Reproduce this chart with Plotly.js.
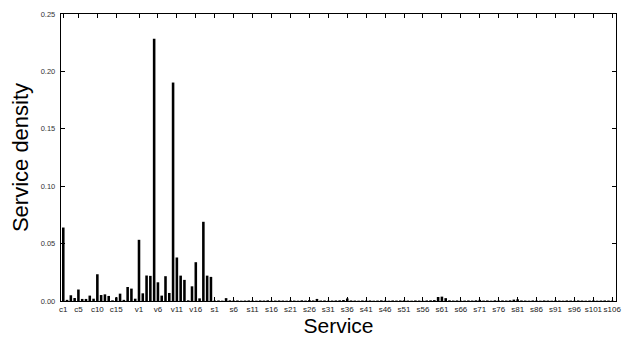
<!DOCTYPE html>
<html>
<head>
<meta charset="utf-8">
<script src="https://cdn.plot.ly/plotly-3.0.1.min.js"></script>
<style>html,body{margin:0;padding:0;background:#fff;}#chart{width:626px;height:342px;}</style>
</head>
<body>
<div id="chart"></div>
<script>
// Category groups
const cCount = 20, vCount = 20, sCount = 106;
const cValues = [0.064, 0.001, 0.005, 0.0026, 0.010, 0.0018, 0.0018, 0.0047, 0.002, 0.0233,
                 0.0052, 0.0058, 0.0044, 0.0006, 0.0032, 0.0064, 0.001, 0.0122, 0.0108, 0.002];
const vValues = [0.0533, 0.0067, 0.0222, 0.0219, 0.2285, 0.0163, 0.0047, 0.0216, 0.007, 0.1903,
                 0.0379, 0.0221, 0.0184, 0.0006, 0.0128, 0.0338, 0.0023, 0.0690, 0.0221, 0.021];
const sValues = [0.0004,0.0005,0.0003,0.0025,0.0006,0.0004,0.0005,0.0003,0.0004,0.0005,
                 0.0004,0.0003,0.0005,0.0004,0.0006,0.0003,0.0004,0.0005,0.0004,0.0003,
                 0.0005,0.0004,0.0003,0.0006,0.0004,0.0008,0.0005,0.0018,0.0004,0.0005,
                 0.0003,0.0004,0.0005,0.0006,0.0009,0.0022,0.0005,0.0004,0.0003,0.0005,
                 0.0004,0.0005,0.0003,0.0004,0.0006,0.0004,0.0003,0.0005,0.0004,0.0005,
                 0.0006,0.0004,0.0003,0.0005,0.0004,0.0003,0.0005,0.0006,0.0008,0.0035,
                 0.0038,0.0025,0.0006,0.0004,0.0005,0.0003,0.0004,0.0005,0.0004,0.0006,
                 0.001,0.0004,0.0005,0.0003,0.0006,0.0004,0.0005,0.0004,0.0006,0.0012,
                 0.0015,0.0005,0.0004,0.0003,0.0005,0.0004,0.0003,0.0005,0.0004,0.0003,
                 0.0005,0.0004,0.0003,0.0005,0.0004,0.0003,0.0005,0.0004,0.0003,0.0004,
                 0.0005,0.0003,0.0004,0.0005,0.0004,0.0003];
const tickLabels = ["c1","c5","c10","c15","v1","v6","v11","v16",
  "s1","s6","s11","s16","s21","s26","s31","s36","s41","s46","s51","s56","s61",
  "s66","s71","s76","s81","s86","s91","s96","s101","s106"];
const yTicks = [0, 0.05, 0.10, 0.15, 0.20, 0.25];

const categories = [];
for (let i = 1; i <= cCount; i++) categories.push("c" + i);
for (let i = 1; i <= vCount; i++) categories.push("v" + i);
for (let i = 1; i <= sCount; i++) categories.push("s" + i);
const values = cValues.concat(vValues, sValues);

const trace = {
  type: "bar",
  x: categories,
  y: values,
  width: 0.68,
  marker: {color: "#000", line: {width: 0}},
  hoverinfo: "x+y"
};

const layout = {
  width: 626, height: 342,
  margin: {l: 61, r: 10, t: 14, b: 41, pad: 0},
  paper_bgcolor: "#fff", plot_bgcolor: "#fff",
  showlegend: false,
  font: {family: "Liberation Sans, Arial, sans-serif", color: "#000"},
  xaxis: {
    type: "category",
    range: [-0.6, 145.98],
    tickmode: "array",
    tickvals: tickLabels,
    ticktext: tickLabels,
    ticks: "inside", ticklen: 4, tickwidth: 1, tickcolor: "#000",
    showline: true, linecolor: "#000", linewidth: 1.2, mirror: "ticks",
    showgrid: false, zeroline: false,
    tickfont: {size: 8, color: "#222"},
    tickangle: 0,
    title: {text: "Service", font: {size: 21, color: "#000"}, standoff: 3}
  },
  yaxis: {
    range: [0, 0.25],
    tickmode: "array",
    tickvals: yTicks,
    tickformat: ".2f",
    ticks: "inside", ticklen: 4, tickwidth: 1, tickcolor: "#000",
    showline: true, linecolor: "#000", linewidth: 1.2, mirror: "ticks",
    showgrid: false, zeroline: false,
    tickfont: {size: 7.5, color: "#333"},
    ticklabelstandoff: 3,
    title: {text: "Service density", font: {size: 22, color: "#000"}, standoff: 6}
  },
  bargap: 0.32
};

Plotly.newPlot("chart", [trace], layout, {displayModeBar: false, staticPlot: true});
</script>
</body>
</html>
